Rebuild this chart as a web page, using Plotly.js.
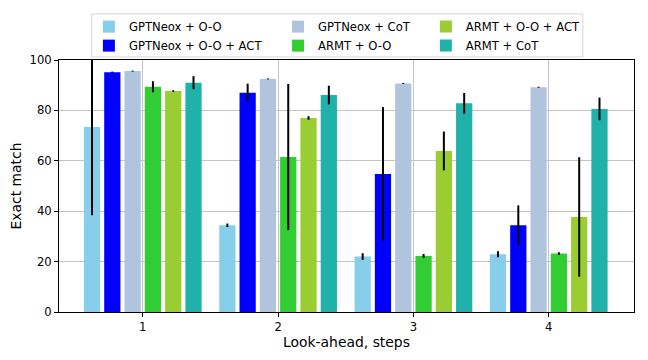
<!DOCTYPE html>
<html>
<head>
<meta charset="utf-8">
<script src="https://cdn.plot.ly/plotly-3.0.1.min.js"></script>
<style>
  body { margin: 0; background: #fff; }
  #chart { width: 648px; height: 360px; }
</style>
</head>
<body>
<div id="chart"></div>
<script>
// Look-ahead steps
const steps = [1, 2, 3, 4];

// Exact match (mean) and error (half-width) per model
const gptOO = [73.4, 34.4, 22.0, 22.9];
const gptOOErr = [35, 0.7, 1.3, 1.2];
const gptOOAct = [95.1, 87.0, 54.8, 34.4];
const gptOOActErr = [0.3, 3.6, 26.5, 7.9];
const gptCoT = [95.6, 92.5, 90.7, 89.2];
const gptCoTErr = [0.2, 0.2, 0.2, 0.2];
const armtOO = [89.4, 61.5, 22.2, 23.2];
const armtOOErr = [2.2, 29, 0.8, 0.5];
const armtOOAct = [87.7, 77.0, 63.9, 37.7];
const armtOOActErr = [0.3, 0.7, 7.7, 23.7];
const armtCoT = [91.0, 86.1, 82.8, 80.6];
const armtCoTErr = [2.6, 3.7, 4.1, 4.5];

const names = ['GPTNeox + O-O', 'GPTNeox + O-O + ACT', 'GPTNeox + CoT',
               'ARMT + O-O', 'ARMT + O-O + ACT', 'ARMT + CoT'];
const colors = ['skyblue', 'blue', 'lightsteelblue', 'limegreen', 'yellowgreen', 'lightseagreen'];
const values = [gptOO, gptOOAct, gptCoT, armtOO, armtOOAct, armtCoT];
const errors = [gptOOErr, gptOOActErr, gptCoTErr, armtOOErr, armtOOActErr, armtCoTErr];
// legend has 3 columns of 2 entries, one plotly legend per column
const legendIds = ['legend', 'legend', 'legend2', 'legend2', 'legend3', 'legend3'];

const data = names.map((name, i) => ({
  type: 'bar',
  x: steps,
  y: values[i],
  name: name,
  legend: legendIds[i],
  marker: { color: colors[i], line: { width: 0 } },
  error_y: { type: 'data', array: errors[i], visible: true, color: 'black', thickness: 2, width: 0 }
}));

function legendCol(x) {
  return {
    orientation: 'v',
    x: x, y: 1.19, xanchor: 'left', yanchor: 'top',
    bgcolor: 'rgba(0,0,0,0)',
    borderwidth: 0,
    tracegroupgap: 0,
    font: { size: 11.6 }
  };
}

const layout = {
  width: 648,
  height: 360,
  margin: { l: 59, r: 14, t: 60, b: 48 },
  paper_bgcolor: 'white',
  plot_bgcolor: 'white',
  font: { family: 'DejaVu Sans', size: 11.6, color: 'black' },
  barmode: 'group',
  bargap: 0.1,
  bargroupgap: 0.2,
  showlegend: true,
  legend: legendCol(0.052),
  legend2: legendCol(0.381),
  legend3: legendCol(0.638),
  shapes: [{
    type: 'rect', xref: 'paper', yref: 'paper',
    x0: 0.057, x1: 0.911, y0: 1.012, y1: 1.183,
    line: { color: '#d6d6d6', width: 1 },
    fillcolor: 'rgba(255,255,255,0.8)',
    layer: 'below'
  }],
  xaxis: {
    range: [0.381, 4.63],
    tickvals: steps,
    ticktext: steps.map(String),
    ticks: 'outside', ticklen: 4, tickcolor: 'black',
    showgrid: true, gridcolor: '#c4c4c4', gridwidth: 1,
    showline: true, linecolor: 'black', linewidth: 1, mirror: true,
    zeroline: false,
    automargin: false,
    title: { text: 'Look-ahead, steps', font: { size: 13.9 }, standoff: 3 }
  },
  yaxis: {
    range: [0, 100],
    tickvals: [0, 20, 40, 60, 80, 100],
    ticks: 'outside', ticklen: 4, tickcolor: 'black',
    showgrid: true, gridcolor: '#c4c4c4', gridwidth: 1,
    showline: true, linecolor: 'black', linewidth: 1, mirror: true,
    zeroline: false,
    automargin: false,
    title: { text: 'Exact match', font: { size: 13.9 }, standoff: 4 }
  }
};

Plotly.newPlot('chart', data, layout, { displayModeBar: false });
</script>
</body>
</html>
